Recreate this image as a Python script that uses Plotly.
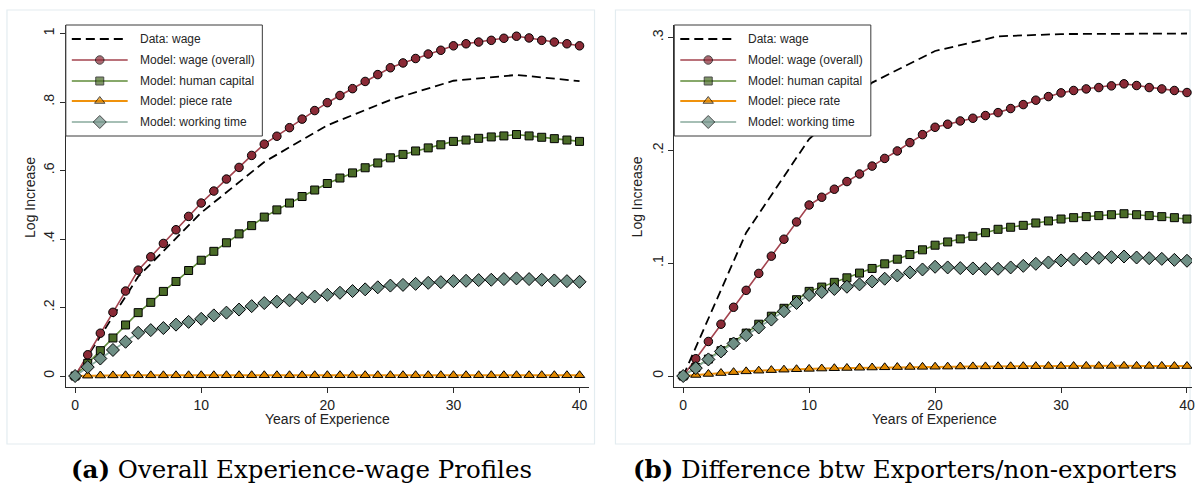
import plotly.graph_objects as go

# ---------------------------------------------------------------- data
years = list(range(41))
data_years = [0, 5, 10, 15, 20, 25, 30, 35, 40]

# (a) overall experience-wage profiles
data_wage_a = [0, 0.290, 0.477, 0.625, 0.732, 0.806, 0.862, 0.879, 0.861]
wage_a = [0, .062, .125, .186, .248, .309, .348, .387, .427, .466, .505,
          .540, .575, .609, .644, .677, .700, .725, .750, .775, .798,
          .819, .839, .860, .880, .900, .914, .927, .940, .951, .964,
          .970, .975, .980, .986, .992, .987, .980, .975, .970, .964]
hc_a = [0, .037, .074, .111, .149, .185, .215, .247, .276, .308, .338,
        .364, .389, .415, .439, .464, .485, .505, .524, .543, .562,
        .578, .593, .608, .622, .637, .647, .657, .666, .675, .685,
        .689, .694, .698, .701, .705, .701, .697, .693, .689, .685]
pr_a = [0, .001, .0015, .0018, .002, .002, .002, .002, .0021, .0021, .0021,
        .0021, .0022, .0022, .0022, .0022, .0022, .0022, .0023, .0023, .0023,
        .0023, .0023, .0023, .0023, .0023, .0023, .0023, .0023, .0023, .0023,
        .0023, .0023, .0023, .0023, .0023, .0023, .0023, .0023, .0023, .0023]
wt_a = [0, .026, .051, .076, .100, .126, .134, .140, .150, .158, .167,
        .177, .185, .194, .204, .213, .217, .221, .227, .232, .237,
        .243, .248, .253, .259, .264, .266, .269, .272, .274, .277,
        .278, .280, .281, .283, .285, .283, .281, .279, .277, .275]

# (b) difference between exporters and non-exporters
data_wage_b = [0, 0.127, 0.210, 0.260, 0.288, 0.301, 0.303, 0.3035, 0.3035]
wage_b = [0, .0153, .0306, .0459, .0609, .0759, .0909, .1062, .1212, .1365, .1515,
          .1584, .1655, .1723, .1790, .1860, .1928, .1994, .2068, .2139, .2204,
          .2231, .2260, .2284, .2308, .2334, .2370, .2405, .2444, .2476, .2509,
          .2530, .2544, .2556, .2571, .2589, .2574, .2556, .2544, .2530, .2512]
hc_b = [0, .0076, .0150, .0224, .0297, .0380, .0459, .0530, .0600, .0676, .0750,
        .0788, .0830, .0870, .0912, .0953, .0994, .1035, .1076, .1118, .1159,
        .1188, .1215, .1238, .1270, .1300, .1318, .1335, .1356, .1374, .1391,
        .1403, .1412, .1421, .1429, .1438, .1429, .1421, .1412, .1403, .1391]
pr_b = [0, .0009, .0018, .0026, .0034, .0041, .0047, .0052, .0056, .0060, .0063,
        .0066, .0069, .0071, .0073, .0075, .0077, .0079, .0080, .0081, .0082,
        .0083, .0084, .0085, .0085, .0086, .0086, .0087, .0087, .0088, .0088,
        .0088, .0089, .0089, .0089, .0090, .0089, .0089, .0089, .0088, .0088]
wt_b = [0, .0070, .0147, .0218, .0288, .0362, .0430, .0500, .0574, .0647, .0718,
        .0744, .0771, .0791, .0812, .0838, .0862, .0891, .0918, .0944, .0968,
        .0962, .0956, .0953, .0950, .0950, .0962, .0976, .0994, .1006, .1024,
        .1032, .1041, .1047, .1053, .1059, .1050, .1044, .1038, .1029, .1021]

x_ticks = [0, 10, 20, 30, 40]
y_ticks_a = [0, 0.2, 0.4, 0.6, 0.8, 1.0]
y_labels_a = ["0", ".2", ".4", ".6", ".8", "1"]
y_ticks_b = [0, 0.1, 0.2, 0.3]
y_labels_b = ["0", ".1", ".2", ".3"]

legend_names = ["Data: wage", "Model: wage (overall)", "Model: human capital",
                "Model: piece rate", "Model: working time"]

# ---------------------------------------------------------------- styles
W, H = 1201, 487
SANS = "Liberation Sans, Arial, sans-serif"
SERIF = "DejaVu Serif, serif"
AXIS_COL = "#2b2b2b"

styles = [
    dict(line=dict(color="black", width=1.8, dash="9px,5px"), marker=None),
    dict(line=dict(color="#a3434e", width=1.6),
         marker=dict(symbol="circle", size=8.5, color="#8a2a36",
                     line=dict(color="black", width=1))),
    dict(line=dict(color="#5f8b38", width=1.6),
         marker=dict(symbol="square", size=8, color="#4a6b27",
                     line=dict(color="black", width=1))),
    dict(line=dict(color="#f0920c", width=2),
         marker=dict(symbol="triangle-up", size=9, color="#e08800",
                     line=dict(color="black", width=1))),
    dict(line=dict(color="#88aa9d", width=1.6),
         marker=dict(symbol="diamond", size=10, color="#6f8f85",
                     line=dict(color="black", width=1))),
]


def px_x(p):
    return p / W


def px_y(p):
    return 1 - p / H


fig = go.Figure()

panels = [
    dict(xa="x", ya="y", data=data_wage_a, series=[wage_a, hc_a, pr_a, wt_a]),
    dict(xa="x2", ya="y2", data=data_wage_b, series=[wage_b, hc_b, pr_b, wt_b]),
]

for p in panels:
    fig.add_trace(go.Scatter(x=data_years, y=p["data"], mode="lines",
                             line=styles[0]["line"], xaxis=p["xa"], yaxis=p["ya"],
                             showlegend=False, hoverinfo="skip"))
    for s, st in zip(p["series"], styles[1:]):
        fig.add_trace(go.Scatter(x=years, y=s, mode="lines+markers",
                                 line=st["line"], marker=st["marker"],
                                 xaxis=p["xa"], yaxis=p["ya"],
                                 showlegend=False, hoverinfo="skip"))

# pixel-space overlay used for the in-plot legend keys
legend_boxes = [(66, 25), (676, 25)]
row_y = [39, 60, 81, 101, 122]
shapes = []
annotations = []
for (lx, ly) in legend_boxes:
    shapes.append(dict(type="rect", xref="x3", yref="y3", x0=lx, x1=lx + 197,
                       y0=ly, y1=ly + 111, line=dict(color="#3a3a3a", width=1),
                       fillcolor="white", layer="between"))
    for name, st, ry in zip(legend_names, styles, row_y):
        if st["marker"] is None:
            fig.add_trace(go.Scatter(x=[lx + 6, lx + 62], y=[ry, ry], mode="lines",
                                     line=st["line"], xaxis="x3", yaxis="y3",
                                     showlegend=False, hoverinfo="skip"))
        else:
            mk = dict(st["marker"])
            mk["size"] = [0, st["marker"]["size"], 0]
            fig.add_trace(go.Scatter(x=[lx + 6, lx + 34, lx + 62], y=[ry, ry, ry],
                                     mode="lines+markers", line=st["line"], marker=mk,
                                     xaxis="x3", yaxis="y3",
                                     showlegend=False, hoverinfo="skip"))
        annotations.append(dict(x=lx + 72, y=ry, xref="x3", yref="y3", text=name,
                                showarrow=False, xanchor="left", yanchor="middle",
                                font=dict(family=SANS, size=12, color="#262626")))

# panel frames
for (x0, x1) in [(7, 596), (617, 1193)]:
    shapes.append(dict(type="rect", xref="paper", yref="paper",
                       x0=px_x(x0), x1=px_x(x1), y0=px_y(444), y1=px_y(10),
                       line=dict(color="#e3ecf0", width=1.2), fillcolor="white",
                       layer="below"))


def label(x, y, text, font, angle=0):
    return dict(x=px_x(x), y=px_y(y), xref="paper", yref="paper", text=text,
                textangle=angle, showarrow=False, xanchor="center",
                yanchor="middle", font=font)


axis_font = dict(family=SANS, size=14, color="#222")
cap_font = dict(family=SERIF, size=24.5, color="black")
annotations += [
    label(328, 419, "Years of Experience", axis_font),
    label(937, 419, "Years of Experience", axis_font),
    label(30, 197, "Log Increase", axis_font, -90),
    label(639, 197, "Log Increase", axis_font, -90),
    label(302, 469, "<b>(a)</b> Overall Experience-wage Profiles", cap_font),
    label(907, 469, "<b>(b)</b> Difference btw Exporters/non-exporters", cap_font),
]


def xaxis(dom, rng, anchor):
    return dict(domain=[px_x(dom[0]), px_x(dom[1])], range=rng, tickvals=x_ticks,
                anchor=anchor,
                showline=True, linecolor=AXIS_COL, linewidth=1, ticks="outside",
                ticklen=5, tickcolor=AXIS_COL, showgrid=False, zeroline=False,
                tickfont=dict(family=SANS, size=14, color="#222"), fixedrange=True)


def yaxis(dom, rng, tv, tt, anchor):
    return dict(domain=[px_y(dom[1]), px_y(dom[0])], range=rng, tickvals=tv,
                ticktext=tt, tickangle=-90, anchor=anchor,
                showline=True, linecolor=AXIS_COL, linewidth=1, ticks="outside",
                ticklen=5, tickcolor=AXIS_COL, showgrid=False, zeroline=False,
                tickfont=dict(family=SANS, size=14, color="#222"), fixedrange=True)


fig.update_layout(
    width=W, height=H, margin=dict(l=0, r=0, t=0, b=0),
    paper_bgcolor="white", plot_bgcolor="rgba(0,0,0,0)",
    xaxis=xaxis((66, 590), [-0.7356, 40.712], "y"),
    yaxis=yaxis((25, 387), [-0.0321, 1.0248], y_ticks_a, y_labels_a, "x"),
    xaxis2=xaxis((676, 1195), [-0.705, 40.40], "y2"),
    yaxis2=yaxis((25, 387), [-0.00975, 0.31103], y_ticks_b, y_labels_b, "x2"),
    xaxis3=dict(domain=[0, 1], range=[0, W], visible=False, anchor="y3", fixedrange=True),
    yaxis3=dict(domain=[0, 1], range=[H, 0], visible=False, anchor="x3", fixedrange=True),
    shapes=shapes, annotations=annotations, showlegend=False,
)

fig.write_html("out.html")
